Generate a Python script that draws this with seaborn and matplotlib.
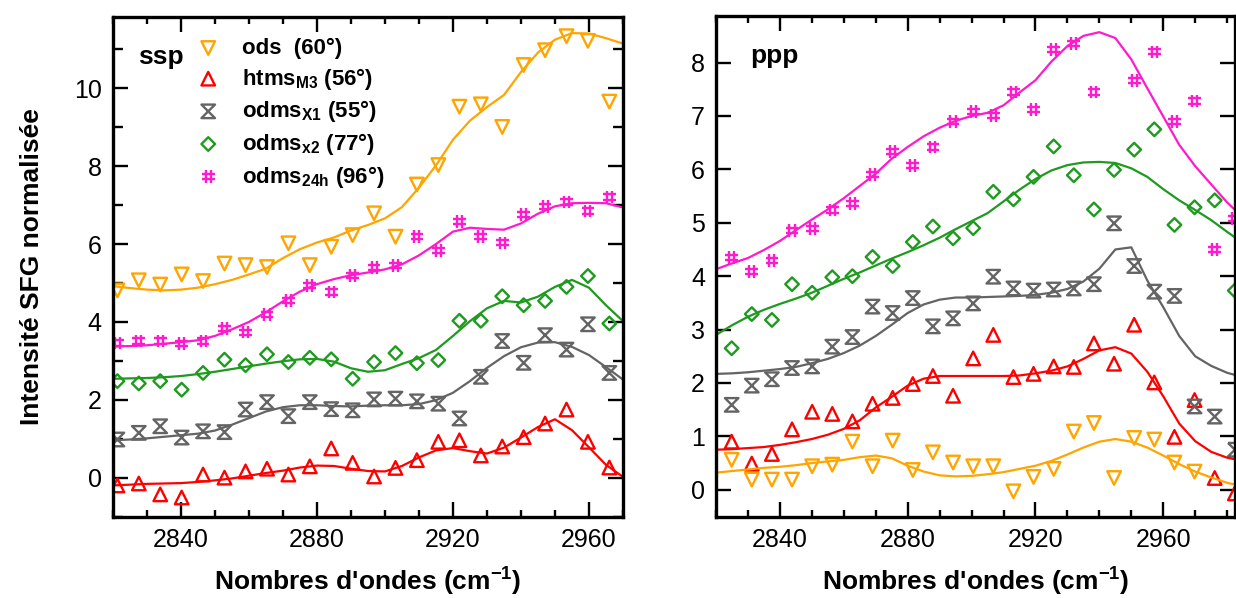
import numpy as np
import seaborn as sns
import matplotlib
matplotlib.use('Agg')
from matplotlib import pyplot as plt
from matplotlib.path import Path
from matplotlib.ticker import MultipleLocator

sns.set_theme(style="ticks")
plt.rcParams['font.family'] = ['Liberation Sans', 'DejaVu Sans']
plt.rcParams['mathtext.fontset'] = 'custom'
plt.rcParams['mathtext.rm'] = 'Liberation Sans'
plt.rcParams['mathtext.bf'] = 'Liberation Sans:bold'
plt.rcParams['mathtext.it'] = 'Liberation Sans:italic'
plt.rcParams['text.color'] = 'black'
plt.rcParams['axes.labelcolor'] = 'black'

nan = np.nan

# ---- ssp panel: measured points ----
wn_ssp = [2821.3, 2827.6, 2833.9, 2840.2, 2846.5, 2852.8, 2859.0, 2865.3, 2871.6, 2877.9, 2884.2, 2890.5,
          2896.8, 2903.1, 2909.4, 2915.7, 2921.9, 2928.2, 2934.5, 2940.8, 2947.1, 2953.4, 2959.7, 2966.0]
ssp_ods = [4.81, 5.07, 4.96, 5.22, 5.05, 5.50, 5.46, 5.41, 6.02, 5.46, 5.93, 6.23,
           6.79, 6.19, 7.53, 8.03, 9.53, 9.59, 9.01, 10.60, 10.98, 11.34, 11.22, 9.66]
ssp_htms = [-0.20, -0.15, -0.43, -0.51, 0.08, 0.00, 0.16, 0.23, 0.08, 0.29, 0.75, 0.38,
            0.03, 0.25, 0.45, 0.92, 0.96, 0.57, 0.80, 1.04, 1.39, 1.75, 0.92, 0.26]
ssp_x1 = [0.98, 1.15, 1.32, 1.03, 1.19, 1.17, 1.75, 1.94, 1.58, 1.94, 1.76, 1.73,
          2.01, 2.03, 1.96, 1.90, 1.52, 2.59, 3.51, 2.95, 3.66, 3.29, 3.94, 2.69]
ssp_x2 = [2.48, 2.42, 2.48, 2.26, 2.69, 3.03, 2.89, 3.17, 2.97, 3.08, 3.04, 2.54,
          2.97, 3.20, 2.94, 3.02, 4.03, 4.03, 4.66, 4.43, 4.54, 4.90, 5.18, 3.96]
ssp_24h = [3.46, 3.51, 3.51, 3.44, 3.51, 3.83, 3.74, 4.20, 4.56, 4.94, 4.77, 5.20,
           5.40, 5.46, 6.19, 5.83, 6.57, 6.20, 6.03, 6.77, 6.97, 7.08, 6.85, 7.21]

# ---- ssp panel: fitted curves ----
fit_wn_ssp = [2820, 2825, 2830, 2835, 2840, 2845, 2850, 2855, 2860, 2865, 2870, 2875, 2880, 2885, 2890, 2895,
              2900, 2905, 2910, 2915, 2920, 2925, 2930, 2935, 2940, 2945, 2950, 2955, 2960, 2965, 2970]
fit_ssp_ods = [4.92, 4.87, 4.83, 4.81, 4.83, 4.88, 4.97, 5.08, 5.22, 5.37, 5.64, 5.87, 6.04, 6.17, 6.35, 6.49,
               6.66, 6.95, 7.45, 8.02, 8.68, 9.17, 9.52, 9.83, 10.42, 10.92, 11.25, 11.42, 11.41, 11.29, 11.15]
fit_ssp_htms = [-0.20, -0.18, -0.16, -0.15, -0.14, -0.11, -0.07, -0.02, 0.05, 0.12, 0.18, 0.26, 0.31, 0.30,
                0.23, 0.17, 0.16, 0.30, 0.52, 0.70, 0.76, 0.68, 0.62, 0.77, 1.03, 1.30, 1.50, 1.22, 0.78,
                0.33, 0.02]
fit_ssp_x1 = [0.96, 0.98, 1.01, 1.05, 1.09, 1.13, 1.21, 1.36, 1.53, 1.70, 1.81, 1.86, 1.86, 1.84, 1.83, 1.85,
              1.86, 1.86, 1.89, 1.99, 2.18, 2.48, 2.82, 3.12, 3.35, 3.47, 3.48, 3.36, 3.15, 2.84, 2.52]
fit_ssp_x2 = [2.54, 2.55, 2.56, 2.58, 2.61, 2.66, 2.72, 2.79, 2.86, 2.93, 2.99, 3.04, 3.05, 2.98, 2.81, 2.72,
              2.76, 2.92, 3.07, 3.28, 3.64, 4.02, 4.35, 4.54, 4.50, 4.65, 4.90, 5.08, 4.88, 4.43, 4.02]
fit_ssp_24h = [3.37, 3.38, 3.40, 3.44, 3.48, 3.53, 3.64, 3.81, 4.00, 4.25, 4.53, 4.78, 4.97, 5.10, 5.20, 5.27,
               5.35, 5.48, 5.71, 6.00, 6.32, 6.42, 6.39, 6.37, 6.53, 6.78, 6.97, 7.05, 7.06, 7.05, 6.94]

# ---- ppp panel: measured points ----
wn_ppp = [2824.9, 2831.2, 2837.5, 2843.8, 2850.1, 2856.4, 2862.7, 2869.0, 2875.3, 2881.6, 2887.9, 2894.2, 2900.5,
          2906.8, 2913.1, 2919.4, 2925.7, 2932.0, 2938.3, 2944.6, 2950.9, 2957.2, 2963.5, 2969.8, 2976.1, 2982.4]
ppp_ods = [0.56, 0.19, 0.19, 0.19, 0.44, 0.47, 0.90, 0.44, 0.92, 0.37, 0.70, 0.51, 0.44,
           0.44, -0.03, 0.24, 0.39, 1.09, 1.25, 0.22, 0.97, 0.94, 0.51, 0.34, nan, nan]
ppp_htms = [0.90, 0.49, 0.67, 1.13, 1.46, 1.42, 1.28, 1.61, 1.72, 1.98, 2.13, 1.76, 2.46,
            2.90, 2.11, 2.17, 2.31, 2.30, 2.74, 2.36, 3.09, 2.01, 0.99, 1.68, 0.22, -0.07]
ppp_x1 = [1.59, 1.95, 2.07, 2.28, 2.31, 2.68, 2.86, 3.43, 3.31, 3.59, 3.06, 3.21, 3.49,
          3.99, 3.77, 3.73, 3.75, 3.77, 3.85, 4.99, 4.19, 3.71, 3.63, 1.56, 1.37, 0.75]
ppp_x2 = [2.65, 3.29, 3.18, 3.85, 3.69, 3.98, 4.00, 4.36, 4.19, 4.64, 4.93, 4.71, 4.90,
          5.58, 5.44, 5.86, 6.43, 5.89, 5.25, 5.99, 6.37, 6.75, 4.96, 5.29, 5.42, 3.73]
ppp_24h = [4.35, 4.08, 4.29, 4.86, 4.89, 5.24, 5.36, 5.91, 6.33, 6.08, 6.42, 6.89, 7.08,
           7.01, 7.45, 7.12, 8.24, 8.36, 7.45, nan, 7.67, 8.20, 6.89, 7.28, 4.50, 5.08]

# ---- ppp panel: fitted curves ----
fit_wn_ppp = [2820, 2825, 2830, 2835, 2840, 2845, 2850, 2855, 2860, 2865, 2870, 2875, 2880, 2885, 2890, 2895,
              2900, 2905, 2910, 2915, 2920, 2925, 2930, 2935, 2940, 2945, 2950, 2955, 2960, 2965, 2970, 2975,
              2980, 2985]
fit_ppp_ods = [0.32, 0.35, 0.38, 0.41, 0.43, 0.46, 0.50, 0.53, 0.56, 0.61, 0.64, 0.59, 0.45, 0.34, 0.27, 0.25,
               0.26, 0.29, 0.33, 0.39, 0.45, 0.54, 0.66, 0.79, 0.90, 0.95, 0.90, 0.79, 0.64, 0.48, 0.34, 0.23,
               0.13, 0.06]
fit_ppp_htms = [0.75, 0.76, 0.78, 0.80, 0.84, 0.89, 0.95, 1.03, 1.14, 1.30, 1.54, 1.74, 1.95, 2.08, 2.13, 2.13,
                2.13, 2.13, 2.13, 2.14, 2.18, 2.23, 2.31, 2.45, 2.61, 2.67, 2.55, 2.21, 1.75, 1.24, 0.91, 0.71,
                0.60, 0.54]
fit_ppp_x1 = [2.17, 2.18, 2.20, 2.23, 2.26, 2.30, 2.37, 2.45, 2.56, 2.70, 2.88, 3.09, 3.31, 3.47, 3.56, 3.60,
              3.60, 3.61, 3.62, 3.63, 3.65, 3.69, 3.76, 3.90, 4.14, 4.50, 4.54, 3.92, 3.42, 2.88, 2.50, 2.32,
              2.19, 2.11]
fit_ppp_x2 = [2.90, 3.08, 3.24, 3.37, 3.48, 3.58, 3.69, 3.82, 3.95, 4.07, 4.20, 4.33, 4.45, 4.58, 4.72, 4.88,
              5.03, 5.18, 5.40, 5.62, 5.82, 5.98, 6.08, 6.13, 6.14, 6.12, 6.02, 5.86, 5.63, 5.42, 5.24, 5.05,
              4.83, 4.62]
fit_ppp_24h = [4.13, 4.24, 4.34, 4.49, 4.66, 4.86, 5.06, 5.25, 5.46, 5.69, 5.92, 6.20, 6.42, 6.62, 6.78, 6.91,
               7.00, 7.06, 7.20, 7.44, 7.67, 8.02, 8.31, 8.50, 8.57, 8.46, 8.06, 7.52, 6.99, 6.46, 6.06, 5.72,
               5.38, 5.10]

labels = ["ods  (60°)", r"htms$_{\mathbf{M3}}$ (56°)", r"odms$_{\mathbf{X1}}$ (55°)",
          r"odms$_{\mathbf{x2}}$ (77°)", r"odms$_{\mathbf{24h}}$ (96°)"]
colors = ['#FFA500', '#FF0000', '#646464', '#1E9A1E', '#FF1ACD']

# custom markers: hourglass and hash
hourglass = Path([(-1, 1), (1, 1), (-1, -1), (1, -1), (-1, 1)],
                 [Path.MOVETO, Path.LINETO, Path.LINETO, Path.LINETO, Path.CLOSEPOLY])
hash_mark = Path([(-0.4, -1), (-0.4, 1), (0.4, -1), (0.4, 1), (-1, 0.4), (1, 0.4), (-1, -0.4), (1, -0.4)],
                 [Path.MOVETO, Path.LINETO] * 4)
markers = ['v', '^', hourglass, 'D', hash_mark]
sizes = [95, 95, 95, 48, 85]

fig = plt.figure(figsize=(12.36, 5.98), dpi=100)
ax1 = fig.add_axes([0.0914, 0.1355, 0.4126, 0.8365])
ax2 = fig.add_axes([0.5793, 0.1355, 0.4200, 0.8375])

panels = [
    (ax1, wn_ssp, [ssp_ods, ssp_htms, ssp_x1, ssp_x2, ssp_24h],
     fit_wn_ssp, [fit_ssp_ods, fit_ssp_htms, fit_ssp_x1, fit_ssp_x2, fit_ssp_24h]),
    (ax2, wn_ppp, [ppp_ods, ppp_htms, ppp_x1, ppp_x2, ppp_24h],
     fit_wn_ppp, [fit_ppp_ods, fit_ppp_htms, fit_ppp_x1, fit_ppp_x2, fit_ppp_24h]),
]

for ax, wn, series, fwn, fits in panels:
    for i in range(5):
        sns.lineplot(x=fwn, y=fits[i], color=colors[i], lw=1.6, ax=ax, legend=False)
    for i in range(5):
        sns.scatterplot(x=wn, y=series[i], marker=markers[i], s=sizes[i], facecolor='none',
                        edgecolor=colors[i], linewidth=1.7, ax=ax, label=labels[i], legend=False)
    for sp in ax.spines.values():
        sp.set_visible(True)
        sp.set_linewidth(2.4)
        sp.set_color('black')
    ax.xaxis.set_major_locator(MultipleLocator(40))
    ax.xaxis.set_minor_locator(MultipleLocator(10))
    ax.tick_params(which='both', direction='in', top=True, right=True, width=1.7,
                   labelsize=18, pad=8, colors='black')
    ax.tick_params(which='major', length=11)
    ax.tick_params(which='minor', length=5)
    ax.set_xlabel(r"Nombres d'ondes (cm$^{\mathregular{-1}}$)", fontsize=19, fontweight='bold')
    ax.xaxis.set_label_coords(0.5, -0.098)

ax1.set_xlim(2820, 2970)
ax1.set_ylim(-1.01, 11.84)
ax1.yaxis.set_major_locator(MultipleLocator(2))
ax1.yaxis.set_minor_locator(MultipleLocator(1))
ax1.tick_params(axis='y', which='minor', length=7)
ax1.set_ylabel("Intensité SFG normalisée", fontsize=19, fontweight='bold')
ax1.yaxis.set_label_coords(-0.135, 0.5)

ax2.set_xlim(2820, 2982.5)
ax2.set_ylim(-0.51, 8.87)
ax2.yaxis.set_major_locator(MultipleLocator(1))
ax2.set_ylabel("")

ax1.text(0.05, 0.92, "ssp", transform=ax1.transAxes, fontsize=19, fontweight='bold', va='center')
ax2.text(0.065, 0.92, "ppp", transform=ax2.transAxes, fontsize=19, fontweight='bold', va='center')

ax1.legend(loc='upper left', bbox_to_anchor=(0.165, 0.958), frameon=False,
           prop={'size': 16, 'weight': 'bold'}, handlelength=1.0, handletextpad=1.0,
           labelspacing=0.3, borderpad=0, borderaxespad=0, scatterpoints=1)

fig.savefig('out.png', dpi=100)
